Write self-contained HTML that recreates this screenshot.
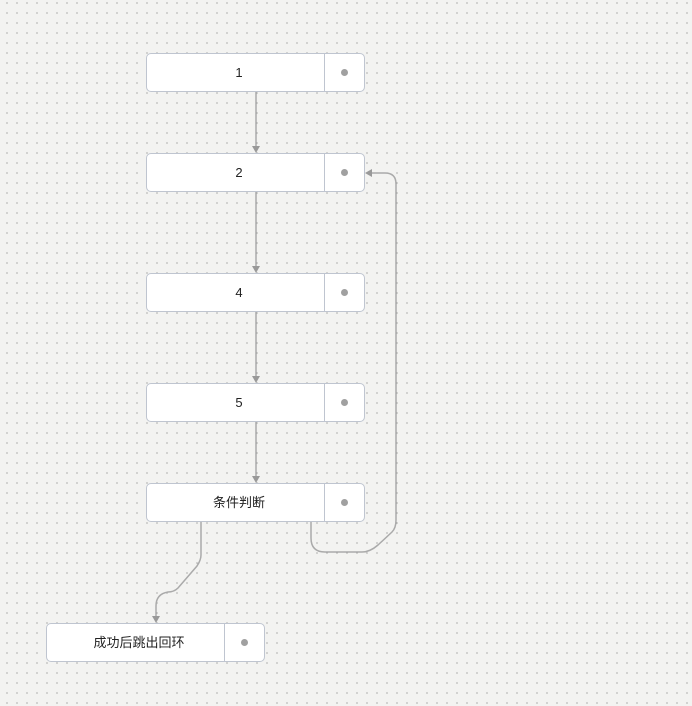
<!DOCTYPE html>
<html><head><meta charset="utf-8"><style>
body{margin:0;width:692px;height:706px;overflow:hidden;background-color:#f3f3f1;background-image:radial-gradient(circle,#777 0.5px,transparent 0.8px);background-size:10px 10px;background-position:2px -2px;font-family:"Liberation Sans","Noto Sans CJK SC",sans-serif;position:relative}
.n{position:absolute;width:217px;height:37px;background:#fff;border:1px solid #bfc5d0;border-radius:5px;box-sizing:content-box}
.n .t{position:absolute;left:0;width:184px;top:0;line-height:37px;text-align:center;font-size:13px;color:#222}
.n .d{position:absolute;left:177px;top:0;width:40px;height:37px;border-left:1px solid #bfc5d0}
.n .d:after{content:"";position:absolute;left:16px;top:15px;width:7px;height:7px;border-radius:50%;background:#a0a0a0}
svg{position:absolute;left:0;top:0}
</style></head><body>
<svg width="692" height="706" fill="none" stroke="#aaa" stroke-width="1.5">
<path d="M256 92V146M256 192V266M256 312V376M256 422V476"/>
<path d="M311 522V538Q311 552 325 552H362Q370 552 378 545L392 532Q396 528 396 520V184Q396 173 385 173H372"/>
<path d="M201 522V555Q201 560 197 566L178 588Q174 592 168 592Q156 594 156 606V616"/>
<g fill="#999" stroke="none">
<path d="M252 146L260 146L256 153Z"/><path d="M252 266L260 266L256 273Z"/><path d="M252 376L260 376L256 383Z"/><path d="M252 476L260 476L256 483Z"/><path d="M152 616L160 616L156 623Z"/><path d="M372 169L372 177L365 173Z"/>
</g></svg>
<div class="n" style="left:146px;top:53px"><div class="t">1</div><div class="d"></div></div>
<div class="n" style="left:146px;top:153px"><div class="t">2</div><div class="d"></div></div>
<div class="n" style="left:146px;top:273px"><div class="t">4</div><div class="d"></div></div>
<div class="n" style="left:146px;top:383px"><div class="t">5</div><div class="d"></div></div>
<div class="n" style="left:146px;top:483px"><div class="t">条件判断</div><div class="d"></div></div>
<div class="n" style="left:46px;top:623px"><div class="t">成功后跳出回环</div><div class="d"></div></div>
</body></html>
